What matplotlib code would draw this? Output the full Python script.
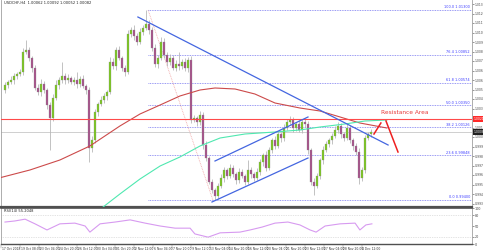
import numpy as np
import matplotlib
matplotlib.use("Agg")
import matplotlib.pyplot as plt
import matplotlib.transforms as mtransforms

## USDCHF H4 candles (open of each bar = previous close)
first_open = 1.0050
closes = [1.0055, 1.0058, 1.0060, 1.0064, 1.0066, 1.0068, 1.0088, 1.0090, 1.0082, 1.0072,
          1.0052, 1.0048, 1.0056, 1.0050, 1.0035, 1.0022, 1.0042, 1.0055, 1.0060, 1.0064,
          1.0060, 1.0062, 1.0058, 1.0060, 1.0056, 1.0061, 1.0054, 1.0050, 0.9992, 1.0000,
          1.0028, 1.0036, 1.0040, 1.0044, 1.0048, 1.0078, 1.0074, 1.0090, 1.0082, 1.0072,
          1.0068, 1.0106, 1.0110, 1.0104, 1.0098, 1.0108, 1.0112, 1.0116, 1.0110, 1.0092,
          1.0076, 1.0082, 1.0098, 1.0085, 1.0078, 1.0082, 1.0072, 1.0076, 1.0074, 1.0078,
          1.0072, 1.0080, 1.0020, 1.0022, 1.0018, 1.0025, 0.9995, 0.9982, 0.9958, 0.9950,
          0.9944, 0.9954, 0.9962, 0.9970, 0.9964, 0.9972, 0.9966, 0.9960, 0.9968, 0.9964,
          0.9958, 0.9970, 0.9966, 0.9962, 0.9968, 0.9978, 0.9985, 0.9972, 0.9990, 1.0000,
          0.9994, 1.0006, 1.0002, 1.0012, 1.0018, 1.0020, 1.0012, 1.0016, 1.0010, 1.0018,
          1.0016, 0.9990, 0.9958, 0.9954, 0.9964, 0.9980, 0.9990, 0.9996, 1.0000, 1.0004,
          1.0010, 1.0014, 1.0006, 1.0002, 1.0012, 1.0000, 0.9994, 0.9988, 0.9962, 0.9970,
          1.0002, 1.0006, 1.0008]
# wick length above / below the body, in pips
wick_up = [3, 2, 4, 3, 2, 3, 4, 10, 3, 2,
           3, 4, 5, 3, 2, 3, 4, 5, 3, 14,
           3, 4, 2, 3, 8, 3, 4, 2, 3, 4,
           3, 2, 4, 3, 2, 5, 4, 3, 4, 2,
           3, 4, 3, 5, 3, 4, 3, 14, 4, 3,
           4, 3, 5, 4, 3, 4, 3, 4, 12, 3,
           4, 3, 4, 3, 2, 4, 3, 4, 2, 3,
           2, 3, 4, 3, 2, 4, 3, 2, 4, 3,
           2, 10, 3, 2, 4, 3, 2, 4, 3, 2,
           4, 3, 2, 4, 3, 4, 3, 2, 4, 3,
           4, 3, 2, 4, 3, 2, 4, 3, 2, 3,
           4, 4, 3, 2, 4, 3, 2, 3, 4, 3,
           3, 2, 3]
wick_dn = [3, 3, 2, 4, 3, 2, 3, 2, 3, 4,
           2, 3, 4, 3, 4, 32, 3, 2, 4, 3,
           4, 3, 2, 3, 4, 3, 2, 4, 14, 4,
           3, 4, 2, 3, 4, 2, 3, 4, 2, 3,
           4, 2, 3, 4, 3, 2, 3, 2, 4, 3,
           3, 4, 2, 3, 4, 3, 2, 3, 4, 3,
           3, 4, 3, 2, 4, 3, 4, 3, 2, 3,
           4, 3, 2, 4, 3, 2, 3, 4, 3, 2,
           3, 2, 4, 3, 2, 3, 4, 3, 2, 3,
           3, 2, 4, 3, 2, 3, 4, 3, 2, 3,
           3, 4, 3, 9, 2, 3, 4, 2, 3, 4,
           2, 3, 4, 3, 2, 3, 4, 3, 6, 3,
           3, 2, 3]

## moving averages (bar, price)
ma_red_bar = [-2, 8.3, 18.3, 28.3, 38.3, 45, 51.7, 58.3, 65, 70, 76.7, 83.3, 90, 98.3, 105, 111.7, 118.3, 127.3]
ma_red = [0.9962, 0.9970, 0.9980, 0.9994, 1.0014, 1.0026, 1.0035, 1.0044, 1.0050, 1.0052,
          1.0051, 1.0046, 1.0037, 1.0032, 1.0029, 1.0023, 1.0017, 1.0012]
ma_green_bar = [32.7, 38.3, 45, 51.7, 58.3, 65, 71.7, 80, 90, 98.3, 105, 113.3, 120, 127.3]
ma_green = [0.9933, 0.9946, 0.9961, 0.9974, 0.9983, 0.9994, 1.0002, 1.0006, 1.0008, 1.0010,
            1.0013, 1.0016, 1.0019, 1.0020]

## fibonacci retracement (swing high -> swing low)
fib_high = 1.0130
fib_low = 0.9940
fib_start = 47.7
fib_end = 69.3
fib_levels = [100.0, 76.4, 61.8, 50.0, 38.2, 23.6, 0.0]

## drawn objects
trend_down = ([44.3, 127.7], [1.0123, 0.9995])
chan_top = ([70, 101], [0.9979, 1.0023])
chan_bot = ([69, 101], [0.9938, 0.9982])
resistance = 1.0021
arrow_up = ([123, 125.3], [1.0006, 1.0017])
arrow_dn = ([127, 131], [1.0019, 0.9988])

## RSI(14)
rsi_bar = [0, 3.3, 6.7, 10, 14, 18.3, 23.3, 26.7, 28.3, 31.7, 36.7, 41.7, 46.7, 51.7, 56.7,
           61.7, 63.3, 67.7, 71.7, 78.3, 81.7, 85.7, 90, 94.3, 98.3, 101.7, 103.7, 106.7,
           111.7, 116.7, 118.3, 120.3, 122.3]
rsi = [61, 64, 69, 56, 39, 56, 58, 50, 33, 56, 61, 67, 58, 50, 44,
       44, 28, 19, 31, 33, 39, 47, 58, 61, 53, 39, 33, 50,
       56, 58, 39, 53, 56]
rsi_ticks = [100, 80, 50, 20, 0]

price_ticks = [1.01360, 1.01265, 1.01170, 1.01075, 1.00980, 1.00885, 1.00790, 1.00695,
               1.00600, 1.00505, 1.00410, 1.00315, 1.00220, 1.00125, 1.00030, 0.99935,
               0.99840, 0.99745, 0.99650, 0.99555, 0.99460, 0.99365]
date_labels = ["17 Oct 2018", "19 Oct 08:00", "23 Oct 04:00", "24 Oct 20:00", "26 Oct 12:00",
               "30 Oct 04:00", "31 Oct 20:00", "2 Nov 12:00", "6 Nov 04:00", "7 Nov 20:00",
               "9 Nov 12:00", "13 Nov 04:00", "14 Nov 20:00", "16 Nov 12:00", "20 Nov 04:00",
               "21 Nov 20:00", "23 Nov 12:00", "27 Nov 04:00", "28 Nov 20:00", "4 Dec 12:00"]

pip = 0.0001
bull = '#7cc81e'
bear = '#a8508a'

closes = np.array(closes)
opens = np.concatenate([[first_open], closes[:-1]])
top = np.maximum(opens, closes)
bot = np.minimum(opens, closes)
highs = top + np.array(wick_up) * pip
lows = bot - np.array(wick_dn) * pip
idx = np.arange(len(closes))
up = closes >= opens

fig = plt.figure(figsize=(4.83, 2.52), dpi=100)
ax = fig.add_axes([1/483, 45/252, 471/483, 207/252])
ax2 = fig.add_axes([1/483, 8/252, 471/483, 36/252])
xl = (-1.33, 155.67)

# candles
ax.vlines(idx, lows, highs, color='#b8b8b8', lw=0.6, zorder=2)
h = np.maximum(top - bot, 0.00008)
ax.bar(idx[up], h[up], bottom=bot[up], width=0.62, color=bull, edgecolor='#8a8a8a', lw=0.2, zorder=3)
ax.bar(idx[~up], h[~up], bottom=bot[~up], width=0.62, color=bear, edgecolor='#8a8a8a', lw=0.2, zorder=3)

# moving averages
ax.plot(ma_red_bar, ma_red, color='#cc4a4a', lw=0.8, zorder=4)
ax.plot(ma_green_bar, ma_green, color='#4fe8b0', lw=0.8, zorder=4)

# fibonacci
ax.plot([fib_start, fib_end], [fib_high, fib_low], color='#f0a8a8', lw=0.6, ls=(0, (1, 1)), zorder=1)
for lv in fib_levels:
    p = fib_low + (fib_high - fib_low) * lv / 100
    ax.plot([fib_start, xl[1]], [p, p], color='#7878f0', lw=0.6, ls=(0, (1, 1)), zorder=1)
    ax.text(xl[1] - 0.7, p + 0.00005, "%.1f %.5f" % (lv, p), color='#3c3cff', fontsize=2.5,
            ha='right', va='bottom', zorder=5)

# trend lines / channel
for xs, ys in [trend_down, chan_top, chan_bot]:
    ax.plot(xs, ys, color='#4466e0', lw=0.9, zorder=5)

# resistance line and current price line
ax.axhline(resistance, color='#ff4a4a', lw=0.8, zorder=4)
ax.axhline(closes[-1], color='#c8c8c8', lw=0.6, zorder=1)
ax.plot(*arrow_up, color='#ee2020', lw=1.1, zorder=6)
ax.plot(*arrow_dn, color='#ee2020', lw=1.1, zorder=6)
ax.text(133.3, resistance + 0.00035, "Resistance Area", color='#e83838', fontsize=4.2,
        ha='center', va='bottom', zorder=6)

ax.text(0.006, 0.995, "USDCHF,H4  1.00062 1.00092 1.00052 1.00082", transform=ax.transAxes,
        fontsize=2.6, color='#222222', ha='left', va='top')

ax.set_xlim(*xl)
ax.set_ylim(0.9933, 1.0140)
ax.set_xticks([])
ax.yaxis.tick_right()
ax.set_yticks(price_ticks)
# labels hidden where the price boxes sit
ax.set_yticklabels(["" if min(abs(t - resistance), abs(t - closes[-1])) < 0.0004 else "%.5f" % t
                    for t in price_ticks])
ax.tick_params(axis='y', labelsize=2.2, length=1.2, width=0.4, pad=0.5, colors='#444444')
ax.spines['top'].set_visible(False)
ax.spines['left'].set_color('#a0a0a0')
ax.spines['left'].set_linewidth(0.6)
ax.spines['right'].set_color('#a0a0a0')
ax.spines['right'].set_linewidth(0.6)
ax.spines['bottom'].set_color('#505050')
ax.spines['bottom'].set_linewidth(1.6)

# price boxes on the right axis
tr = mtransforms.blended_transform_factory(ax.transAxes, ax.transData)
ax.text(1.003, resistance, "%.5f" % resistance, transform=tr, fontsize=2.2, color='white',
        ha='left', va='center', bbox=dict(boxstyle='square,pad=0.2', fc='#ff2a2a', ec='none'),
        clip_on=False, zorder=7)
ax.text(1.003, closes[-1], "%.5f" % closes[-1], transform=tr, fontsize=2.2, color='white',
        ha='left', va='center', bbox=dict(boxstyle='square,pad=0.2', fc='#202020', ec='none'),
        clip_on=False, zorder=7)

# RSI panel
ax2.plot(rsi_bar, rsi, color='#d79af0', lw=0.8)
for lv in [80, 20]:
    ax2.axhline(lv, color='#c8c8c8', lw=0.5, ls=(0, (1, 1.5)))
ax2.text(0.006, 0.97, "RSI(14) 55.2048", transform=ax2.transAxes, fontsize=2.6,
         color='#222222', ha='left', va='top')
ax2.set_xlim(*xl)
ax2.set_ylim(0, 100)
ax2.yaxis.tick_right()
ax2.set_yticks(rsi_ticks)
ax2.set_yticklabels([str(t) for t in rsi_ticks])
ax2.tick_params(axis='y', labelsize=2.4, length=1.2, width=0.4, pad=0.5, colors='#444444')
ax2.set_xticks([])
ax2.spines['top'].set_color('#505050')
ax2.spines['top'].set_linewidth(1.2)
ax2.spines['bottom'].set_color('#505050')
ax2.spines['bottom'].set_linewidth(1.0)
ax2.spines['left'].set_color('#a0a0a0')
ax2.spines['left'].set_linewidth(0.6)
ax2.spines['right'].set_color('#a0a0a0')
ax2.spines['right'].set_linewidth(0.6)

# date labels under the RSI panel
trd = mtransforms.blended_transform_factory(ax2.transData, ax2.transAxes)
for k, lab in enumerate(date_labels):
    xb = -1.33 + 0.2 + k * 6.33
    ax2.text(xb, -0.08, lab, transform=trd, fontsize=2.2, color='#333333', ha='left', va='top',
             clip_on=False)
    ax2.plot([xb - 0.3, xb - 0.3], [-0.02, -0.12], transform=trd, color='#777777', lw=0.3,
             clip_on=False)

fig.savefig("out.png", dpi=100)
